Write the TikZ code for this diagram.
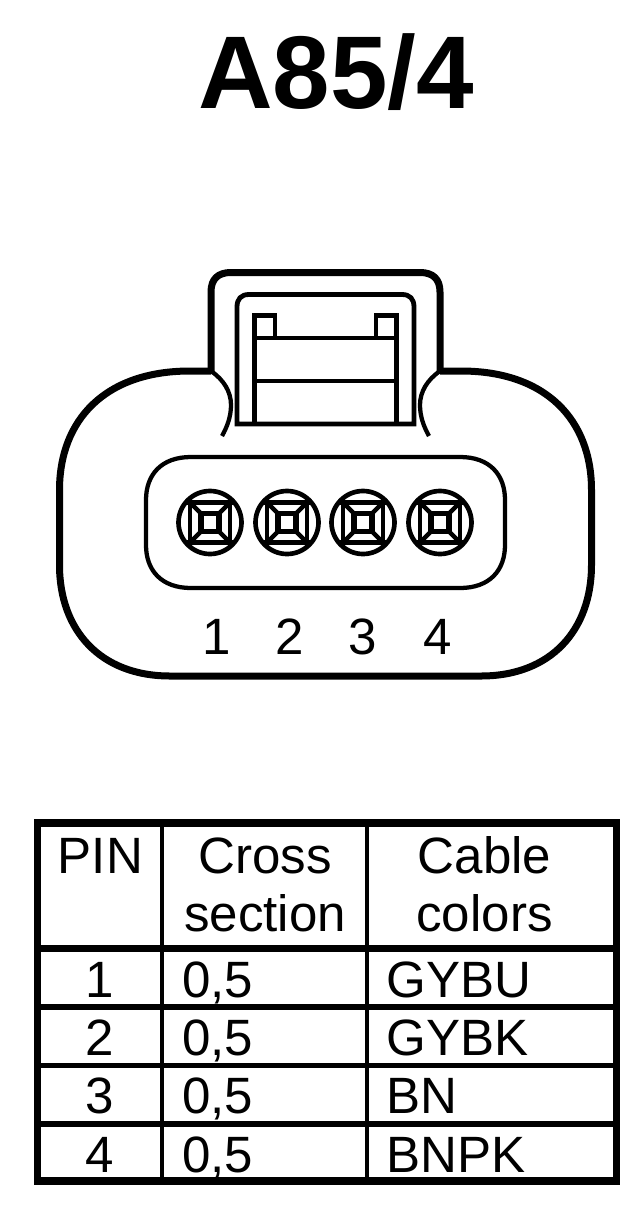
\documentclass[tikz,border=0pt]{standalone}
\usepackage{fontspec}
\setmainfont{Liberation Sans}
\usepackage{tikz}

\tikzset{
  body/.style={line width=5.25pt, line join=round},
  thin/.style={line width=3.2pt},
  rule/.style={line width=3.6pt},
  label/.style={font=\fontsize{38.3}{38.3}\selectfont, inner sep=0pt, anchor=base},
  pincontact/.pic={
    \draw [line width=3.5pt] (0,0) circle [radius=31.5];
    \draw [line width=4.1pt] (-9,-9) rectangle (9,9);
    \draw [line width=3.4pt] (-9,-9) -- (-23,-23) (9,-9) -- (23,-23) (9,9) -- (23,23) (-9,9) -- (-23,23);
    \draw [line width=3.2pt] (-24,-20) -- (24,-20) (-24,20) -- (24,20) (-20,-24) -- (-20,24) (20,-24) -- (20,24);
  }
}

\begin{document}
\begin{tikzpicture}[x=0.75pt,y=-0.75pt]
\useasboundingbox (0,0) rectangle (640,1214);

\node [font=\bfseries\fontsize{77.5}{77.5}\selectfont, inner sep=0pt, anchor=base] (title) at (336,108) {A85/4};

% connector housing
\draw [body] (211,371) -- (211,292) .. controls (211,279) and (218,272.5) .. (231,272.5) -- (420,272.5) .. controls (433,272.5) and (440,279) .. (440,292) -- (440,371);
\draw [body] (211,371) -- (190,371) .. controls (105,371) and (59.5,420) .. (59.5,490) -- (59.5,565) .. controls (59.5,630) and (100,676) .. (170,676) -- (481,676) .. controls (551,676) and (591.5,630) .. (591.5,565) -- (591.5,490) .. controls (591.5,420) and (546,371) .. (461,371) -- (440,371);
\draw [thin] (211,371) .. controls (224,380) and (231,392) .. (231,405) .. controls (231,417) and (227,427) .. (222,436);
\draw [thin] (440,371) .. controls (427,380) and (420,392) .. (420,405) .. controls (420,417) and (424,427) .. (429,436);

% latch
\draw [rule] (237,424) -- (237,307) .. controls (237,299) and (241,294.5) .. (249,294.5) -- (402,294.5) .. controls (410,294.5) and (414,299) .. (414,307) -- (414,424) -- cycle;
\draw [rule] (254.5,424) -- (254.5,315.5) -- (275,315.5) -- (275,338);
\draw [rule] (396.5,424) -- (396.5,315.5) -- (376,315.5) -- (376,338);
\draw [rule] (254.5,338) -- (396.5,338);
\draw [rule] (254.5,381) -- (396.5,381);

% pin cavity
\draw [thin] (191,457) -- (460,457) .. controls (490,457) and (505,475) .. (505,500) -- (505,545) .. controls (505,570) and (490,588) .. (460,588) -- (191,588) .. controls (161,588) and (146,570) .. (146,545) -- (146,500) .. controls (146,475) and (161,457) .. (191,457) -- cycle;

\foreach \n/\xp/\xl in {1/210/217, 2/287/290, 3/363/363, 4/440/438} {
  \pic at (\xp,522.5) {pincontact};
  \node [label] (pin\n) at (\xl,654) {\n};
}

% table
\draw [line width=3.7pt] (162,823) -- (162,1181);
\draw [line width=3.7pt] (367,823) -- (367,1181);
\draw [line width=5pt] (37,948.5) -- (617,948.5);
\draw [line width=4pt] (37,1007) -- (617,1007);
\draw [line width=4pt] (37,1065.5) -- (617,1065.5);
\draw [line width=4pt] (37,1124) -- (617,1124);
\draw [line width=5.5pt] (37.5,823) rectangle (616.5,1181);

\node [label] (headpin) at (100.5,873) {PIN};
\node [label] (headcross) at (265,873) {Cross};
\node [label] (headsection) at (265,931) {section};
\node [label] (headcable) at (484.5,873) {Cable};
\node [label] (headcolors) at (484.5,931) {colors};

\foreach \n/\yr/\name in {1/997/GYBU, 2/1055/GYBK, 3/1113.5/BN, 4/1172/BNPK} {
  \node [label] (num\n) at (100,\yr) {\n};
  \node [label, anchor=base west] (cross\n) at (182,\yr) {0,5};
  \node [label, anchor=base west] (color\n) at (386.5,\yr) {\name};
}
\end{tikzpicture}
\end{document}
